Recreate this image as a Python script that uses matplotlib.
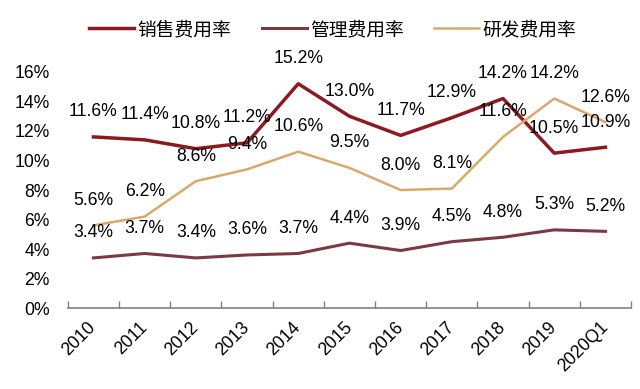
import numpy as np
import matplotlib.pyplot as plt

plt.rcParams['font.family'] = ['Liberation Sans', 'Noto Sans CJK SC']

years = ['2010', '2011', '2012', '2013', '2014', '2015', '2016', '2017', '2018', '2019', '2020Q1']
sales = [11.6, 11.4, 10.8, 11.2, 15.2, 13.0, 11.7, 12.9, 14.2, 10.5, 10.9]
admin = [3.4, 3.7, 3.4, 3.6, 3.7, 4.4, 3.9, 4.5, 4.8, 5.3, 5.2]
rnd = [5.6, 6.2, 8.6, 9.4, 10.6, 9.5, 8.0, 8.1, 11.6, 14.2, 12.6]
names = ['销售费用率', '管理费用率', '研发费用率']
colors = ['#8B1A22', '#7A3A42', '#D9A96C']

fig = plt.figure(figsize=(6.4, 3.89), dpi=100)
ax = fig.add_axes([0.106, 0.208, 0.88, 0.607])

x = np.arange(len(years))
series = [sales, admin, rnd]
widths = [2.5, 2.2, 1.8]
for vals, name, c, lw in zip(series, names, colors, widths):
    ax.plot(x, vals, color=c, linewidth=lw, label=name)
    for xi, v in zip(x, vals):
        ax.annotate('%.1f%%' % v, (xi, v), xytext=(0, 18), textcoords='offset points',
                    ha='center', va='center', fontsize=12.7)

ax.set_xlim(-0.5, len(years) - 0.5)
ax.set_ylim(0, 16)
ax.set_yticks(range(0, 17, 2))
ax.set_yticklabels(['%d%%' % v for v in range(0, 17, 2)], fontsize=12.7)
ax.tick_params(axis='y', length=0, pad=13)

ax.set_xticks(x)
ax.set_xticklabels(years, rotation=45, ha='right', va='center', rotation_mode='anchor', fontsize=12.7)
ax.set_xticks(np.arange(-0.5, len(years)), minor=True)
ax.tick_params(axis='x', which='major', length=0, pad=12)
ax.tick_params(axis='x', which='minor', direction='in', length=5, color='#808080', width=1)

for s in ['top', 'right', 'left']:
    ax.spines[s].set_visible(False)
ax.spines['bottom'].set_color('#808080')
ax.spines['bottom'].set_linewidth(1.2)

fig.legend(loc='center', bbox_to_anchor=(0.52, 1 - 30 / 389), ncol=3, frameon=False,
           fontsize=13.5, handlelength=2.4, handletextpad=0.2, columnspacing=1.6)

fig.savefig('out.png', dpi=100)
